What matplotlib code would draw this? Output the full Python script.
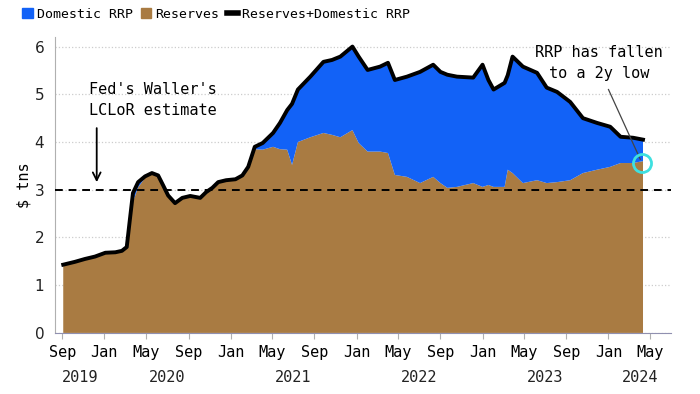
import pandas as pd
import matplotlib.pyplot as plt
import matplotlib.dates as mdates
from matplotlib.lines import Line2D
from matplotlib.patches import Patch

# data ($ tns)
dates = ['2019-09-04', '2019-10-08', '2019-11-06', '2019-12-05', '2020-01-04',
         '2020-02-02', '2020-02-21', '2020-03-06', '2020-03-15', '2020-03-24',
         '2020-04-08', '2020-04-28', '2020-05-18', '2020-06-05', '2020-06-19',
         '2020-07-04', '2020-07-24', '2020-08-14', '2020-09-06', '2020-10-05',
         '2020-10-22', '2020-11-09', '2020-11-26', '2020-12-19', '2021-01-15',
         '2021-02-04', '2021-02-21', '2021-03-12', '2021-04-04', '2021-05-04',
         '2021-05-24', '2021-06-14', '2021-06-28', '2021-07-15', '2021-08-20',
         '2021-09-27', '2021-10-22', '2021-11-15', '2021-12-20', '2022-01-07',
         '2022-02-02', '2022-03-10', '2022-04-02', '2022-04-22', '2022-05-27',
         '2022-07-04', '2022-08-11', '2022-09-01', '2022-09-21', '2022-10-19',
         '2022-12-05', '2023-01-01', '2023-01-18', '2023-02-02', '2023-03-06',
         '2023-03-15', '2023-03-29', '2023-04-28', '2023-06-08', '2023-07-06',
         '2023-08-05', '2023-09-12', '2023-10-19', '2023-11-29', '2024-01-06',
         '2024-02-05', '2024-03-12', '2024-04-10']
total = [1.43, 1.49, 1.55, 1.60, 1.68,
         1.69, 1.72, 1.80, 2.37, 2.93,
         3.16, 3.28, 3.35, 3.30, 3.10,
         2.88, 2.72, 2.83, 2.87, 2.83,
         2.95, 3.04, 3.16, 3.20, 3.22,
         3.30, 3.48, 3.90, 3.98, 4.19,
         4.40, 4.67, 4.80, 5.10, 5.37,
         5.68, 5.72, 5.79, 6.00, 5.79,
         5.51, 5.58, 5.66, 5.30, 5.37,
         5.47, 5.62, 5.47, 5.41, 5.37,
         5.35, 5.62, 5.30, 5.10, 5.24,
         5.40, 5.79, 5.58, 5.45, 5.14,
         5.05, 4.84, 4.50, 4.40, 4.32,
         4.11, 4.09, 4.05]
reserves = [1.43, 1.49, 1.55, 1.60, 1.68,
            1.69, 1.72, 1.80, 2.30, 2.75,
            3.05, 3.25, 3.35, 3.30, 3.10,
            2.88, 2.72, 2.83, 2.87, 2.83,
            2.95, 3.04, 3.16, 3.20, 3.22,
            3.30, 3.45, 3.85, 3.84, 3.90,
            3.85, 3.84, 3.52, 4.00, 4.10,
            4.19, 4.15, 4.10, 4.25, 3.98,
            3.80, 3.80, 3.77, 3.31, 3.27,
            3.14, 3.27, 3.14, 3.04, 3.06,
            3.14, 3.06, 3.10, 3.06, 3.06,
            3.42, 3.35, 3.14, 3.20, 3.14,
            3.16, 3.20, 3.35, 3.42, 3.48,
            3.56, 3.56, 3.60]

df = pd.DataFrame({'date': pd.to_datetime(dates), 'total': total, 'reserves': reserves})
df['rrp'] = df['total'] - df['reserves']

blue = '#1262f7'
brown = '#a97b42'
mono = 'DejaVu Sans Mono'

fig = plt.figure(figsize=(7, 3.94), dpi=100)
ax = fig.add_axes([0.079, 0.155, 0.880, 0.751])

ax.stackplot(df['date'], df['reserves'], df['rrp'], colors=[brown, blue], linewidth=0)
ax.plot(df['date'], df['total'], color='black', linewidth=2.8, solid_joinstyle='round')

# LCLoR line
ax.axhline(3.0, color='black', linestyle=(0, (4, 3)), linewidth=1.4, zorder=3)

ax.set_xlim(pd.Timestamp('2019-08-12'), pd.Timestamp('2024-07-01'))
ax.set_ylim(0, 6.2)
ax.set_yticks(range(0, 7))
ax.grid(axis='y', color='#cccccc', linestyle=':', linewidth=0.9)
ax.set_axisbelow(True)

for s in ['top', 'right']:
    ax.spines[s].set_visible(False)
ax.spines['left'].set_color('#b0b0b0')
ax.spines['bottom'].set_color('#9090b0')

# month ticks + year labels
ax.xaxis.set_major_locator(mdates.MonthLocator(bymonth=[1, 5, 9]))
ax.xaxis.set_major_formatter(mdates.DateFormatter('%b'))
ax.tick_params(axis='x', length=4, color='#b0b0b0', labelsize=11, pad=5)
ax.tick_params(axis='y', length=0, labelsize=11, pad=8)
for lab in ax.get_xticklabels():
    lab.set_family(mono)
for lab in ax.get_yticklabels():
    lab.set_family('DejaVu Sans')
    lab.set_color('#222222')

xmin, xmax = ax.get_xlim()
for yr in range(2019, 2025):
    a = max(mdates.date2num(pd.Timestamp(f'{yr}-01-01')), xmin)
    b = min(mdates.date2num(pd.Timestamp(f'{yr + 1}-01-01')), xmax)
    ax.annotate(str(yr), xy=((a + b) / 2, 0), xycoords=('data', 'axes fraction'),
                xytext=(0, -32), textcoords='offset points', ha='center', va='center',
                fontsize=11, family=mono, color='#222222')

ax.set_ylabel('$ tns', fontsize=11, family=mono, labelpad=2)

# annotations
ax.text(pd.Timestamp('2020-05-20'), 4.88, "Fed's Waller's\nLCLoR estimate", ha='center', va='center',
        fontsize=11, family=mono, linespacing=1.55)
ax.annotate('', xy=(pd.Timestamp('2019-12-10'), 3.1), xytext=(pd.Timestamp('2019-12-10'), 4.35),
            arrowprops=dict(arrowstyle='->', color='black', lw=1.3, mutation_scale=14))

ax.text(pd.Timestamp('2023-12-05'), 5.66, 'RRP has fallen\nto a 2y low', ha='center', va='center',
        fontsize=11, family=mono, linespacing=1.55)
ax.plot([pd.Timestamp('2024-01-01'), pd.Timestamp('2024-04-02')], [5.1, 3.64],
        color='#444444', linewidth=0.9)
ax.plot([pd.Timestamp('2024-04-08')], [3.56], marker='o', markersize=13,
        markerfacecolor='none', markeredgecolor='#3ee0e0', markeredgewidth=2, zorder=5)

handles = [Patch(color=blue), Patch(color=brown), Line2D([0], [0], color='black', lw=4)]
fig.legend(handles, ['Domestic RRP', 'Reserves', 'Reserves+Domestic RRP'],
           loc='upper left', bbox_to_anchor=(0.015, 1.01), ncol=3, frameon=False,
           prop={'family': mono, 'size': 9.5}, handlelength=0.8, handleheight=0.8,
           handletextpad=0.3, columnspacing=0.6)

fig.savefig('out.png', dpi=100)
